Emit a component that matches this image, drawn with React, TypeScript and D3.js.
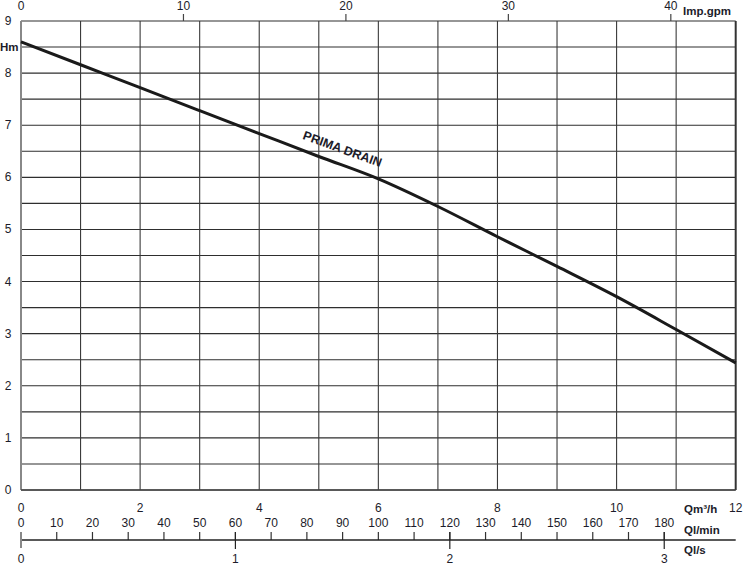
import React from "react";
import * as d3 from "d3";

const flowM3h = [0, 1, 2, 3, 4, 5, 6, 7, 8, 9, 10, 11, 12];
const headM = [8.6, 8.16, 7.72, 7.28, 6.84, 6.4, 5.97, 5.44, 4.86, 4.29, 3.71, 3.08, 2.44];
const seriesName = "PRIMA DRAIN";
const yTicks = [0, 1, 2, 3, 4, 5, 6, 7, 8, 9];
const m3hTicks = [0, 2, 4, 6, 8, 10, 12];
const gpmTicks = [0, 10, 20, 30, 40];
const lminTicks = [0, 10, 20, 30, 40, 50, 60, 70, 80, 90, 100, 110, 120, 130, 140, 150, 160, 170, 180];
const lsTicks = [0, 1, 2, 3];

export default function App() {
  const W = 750, H = 569;
  const x = d3.scaleLinear().domain([0, 12]).range([21, 735.7]);
  const y = d3.scaleLinear().domain([0, 9]).range([490, 21]);
  const GPM_PER_M3H = 1000 / 4.54609 / 60;
  const xGpm = (g: number) => x(g / GPM_PER_M3H);
  const xLmin = (l: number) => x(l * 60 / 1000);
  const xLs = (l: number) => x(l * 3.6);
  const line = d3.line<number>().x((_, i) => x(flowM3h[i])).y((d) => y(d)).curve(d3.curveMonotoneX);
  const hGrid = d3.range(0, 9.01, 0.5);
  const vGrid = d3.range(1, 12, 1);
  const font = "Liberation Sans, Arial, sans-serif";
  const txt = "#1c1c2a";
  return (
    <svg width={W} height={H} style={{ position: "absolute", left: 0, top: 0 }} fontFamily={font}>
      <rect width={W} height={H} fill="#fff" />
      {hGrid.map((v) => (
        <line key={"h" + v} x1={x(0)} x2={x(12)} y1={y(v)} y2={y(v)} stroke="#2e2e2e" strokeWidth={1.1} />
      ))}
      {vGrid.map((v) => (
        <line key={"v" + v} x1={x(v)} x2={x(v)} y1={y(9)} y2={y(0)} stroke="#3a3a3a" strokeWidth={1.1} />
      ))}
      <line x1={x(0)} x2={x(0)} y1={y(9)} y2={y(0)} stroke="#888" strokeWidth={2} />
      <line x1={x(12)} x2={x(12)} y1={y(9)} y2={y(0)} stroke="#333" strokeWidth={2} />
      <line x1={x(0)} x2={x(12)} y1={y(0)} y2={y(0)} stroke="#444" strokeWidth={1.4} />
      {/* top axis */}
      {gpmTicks.map((g) => (
        <g key={"g" + g}>
          {g > 0 && <line x1={xGpm(g)} x2={xGpm(g)} y1={14} y2={21} stroke="#444" strokeWidth={1.2} />}
          <text x={xGpm(g)} y={10} fontSize={12} textAnchor="middle" fill={txt}>{g}</text>
        </g>
      ))}
      <text x={683} y={15} fontSize={11.5} fontWeight="bold" fill={txt}>Imp.gpm</text>
      {/* y labels */}
      {yTicks.map((t) => (
        <text key={"y" + t} x={8} y={y(t) + 4} fontSize={12} textAnchor="middle" fill={txt}>{t}</text>
      ))}
      <text x={0} y={y(8.5) + 4} fontSize={11.5} fontWeight="bold" fill={txt}>Hm</text>
      {/* curve */}
      <path d={line(headM) || ""} fill="none" stroke="#1a1a1a" strokeWidth={3} />
      <text
        x={341}
        y={153}
        fontSize={12.5}
        fontWeight="bold"
        fill={txt}
        textAnchor="middle"
        transform="rotate(20 341 153)"
      >{seriesName}</text>
      {/* bottom axes */}
      {m3hTicks.map((t) => (
        <text key={"m" + t} x={x(t)} y={512} fontSize={12} textAnchor="middle" fill={txt}>{t}</text>
      ))}
      {lminTicks.map((t) => (
        <g key={"l" + t}>
          <text x={xLmin(t)} y={527} fontSize={12} textAnchor="middle" fill={txt}>{t}</text>
          {t > 0 && <line x1={xLmin(t)} x2={xLmin(t)} y1={532} y2={540} stroke="#333" strokeWidth={1.2} />}
        </g>
      ))}
      <line x1={x(0)} x2={x(12)} y1={540} y2={540} stroke="#222" strokeWidth={1.4} />
      <line x1={x(0)} x2={x(0)} y1={532} y2={548} stroke="#888" strokeWidth={2} />
      {lsTicks.map((t) => (
        <g key={"s" + t}>
          {t > 0 && <line x1={xLs(t)} x2={xLs(t)} y1={532} y2={549} stroke="#222" strokeWidth={1.2} />}
          <text x={xLs(t)} y={563} fontSize={12} textAnchor="middle" fill={txt}>{t}</text>
        </g>
      ))}
      <text x={684} y={513} fontSize={11.5} fontWeight="bold" fill={txt}>Qm³/h</text>
      <text x={684} y={534} fontSize={11.5} fontWeight="bold" fill={txt}>Ql/min</text>
      <text x={684} y={554} fontSize={11.5} fontWeight="bold" fill={txt}>Ql/s</text>
    </svg>
  );
}
